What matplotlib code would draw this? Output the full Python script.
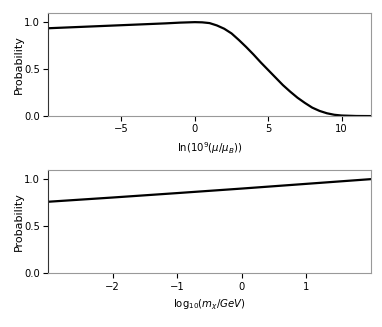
import matplotlib
matplotlib.use('Agg')
import matplotlib.pyplot as plt

# Top panel: probability vs ln(10^9 mu/mu_B)
mu_x = [-10, -8, -6, -4, -2, -1, 0, 0.5, 1, 1.5, 2, 2.5, 3, 3.5, 4, 4.5,
        5, 5.5, 6, 6.5, 7, 7.5, 8, 8.5, 9, 9.5, 10, 11, 12]
mu_p = [0.935, 0.948, 0.961, 0.974, 0.987, 0.995, 1.000, 0.998, 0.99, 0.965,
        0.93, 0.88, 0.81, 0.735, 0.655, 0.57, 0.49, 0.41, 0.33, 0.26, 0.195,
        0.14, 0.09, 0.055, 0.03, 0.014, 0.006, 0.001, 0.0]

# Bottom panel: probability vs log10(m_chi/GeV)
m_x = [-3, -2, -1, 0, 1, 2]
m_p = [0.76, 0.805, 0.852, 0.90, 0.95, 1.0]

plt.rcParams['font.family'] = 'DejaVu Sans'

fig = plt.figure(figsize=(3.82, 3.27), dpi=100)
ax1 = fig.add_axes([0.126, 0.645, 0.845, 0.316])
ax2 = fig.add_axes([0.126, 0.164, 0.845, 0.317])

ax1.plot(mu_x, mu_p, color='black', linewidth=1.6)
ax1.set_xlim(-10, 12)
ax1.set_xticks([-5, 0, 5, 10])
ax1.set_xlabel(r'ln(10$^9$($\mu/\mu_B$))', fontsize=7.3)

ax2.plot(m_x, m_p, color='black', linewidth=1.6)
ax2.set_xlim(-3, 2)
ax2.set_xticks([-2, -1, 0, 1])
ax2.set_xlabel(r'log$_{10}$($m_\chi$/$GeV$)', fontsize=7.3)

for ax in (ax1, ax2):
    ax.set_ylim(0, 1.1)
    ax.set_yticks([0.0, 0.5, 1.0])
    ax.set_ylabel('Probability', fontsize=8)
    ax.yaxis.set_label_coords(-0.075, 0.5)
    ax.tick_params(labelsize=7.2, length=3.5, width=0.8, pad=2.5)
    for side in ('top', 'right', 'bottom'):
        ax.spines[side].set_color('#999999')
    ax.spines['left'].set_color('#333333')

fig.savefig('out.png', dpi=100)
